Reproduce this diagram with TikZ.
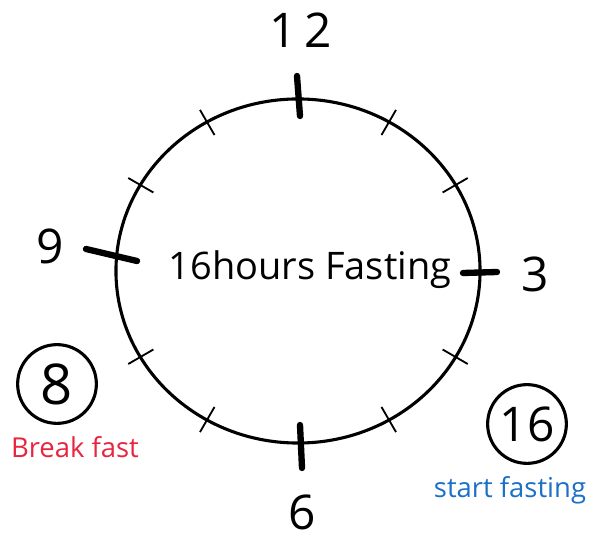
\documentclass[tikz,border=0pt]{standalone}
\usepackage{fontspec}
\setmainfont{Open Sans}
\usetikzlibrary{positioning}
\definecolor{breakred}{RGB}{232,36,62}
\definecolor{startblue}{RGB}{28,112,200}

\begin{document}
\begin{tikzpicture}[x=0.025cm,y=-0.025cm,
	hour/.style={font=\fontsize{34}{40}\selectfont},
	bigtick/.style={line width=4.5pt,line cap=round},
	smalltick/.style={line width=1.3pt},
	badge/.style={draw,circle,line width=2.2pt,minimum size=56pt,inner sep=0pt}]
	\useasboundingbox (0,0) rectangle (600,550);
	% dial
	\draw[line width=2.2pt] (298,271) ellipse [x radius=4.55cm, y radius=4.3cm];
	\foreach \a in {30,60,120,150,210,240,300,330}
		\draw[smalltick,shift={(298,271)}] (\a:167 and 157) -- (\a:196 and 186);
	\coordinate (12a) at (297,76);
	\coordinate (12b) at (300,116);
	\coordinate (3a) at (463,273);
	\coordinate (3b) at (497,272);
	\coordinate (6a) at (300,425);
	\coordinate (6b) at (302,468);
	\coordinate (9a) at (86,249);
	\coordinate (9b) at (137,261);
	\draw[bigtick] (12a) -- (12b);
	\draw[bigtick] (3a) -- (3b);
	\draw[bigtick] (6a) -- (6b);
	\draw[bigtick] (9a) -- (9b);
	% numbers
	\node[hour] (12) at (301,30) {1\,2};
	\node[hour] (3) at (535,274) {3};
	\node[hour] (6) at (302,512) {6};
	\node[hour] (9) at (50,246) {9};
	\node[font=\fontsize{27}{30}\selectfont] (title) at (310,270) {16hours Fasting};
	% meals
	\node[badge,font=\fontsize{40}{44}\selectfont] (8) at (57,384) {8};
	\node[text=breakred,font=\fontsize{19.5}{22}\selectfont] (break) at (75,447) {Break fast};
	\node[badge,font=\fontsize{34}{40}\selectfont] (16) at (527,424) {16};
	\node[text=startblue,font=\fontsize{19.5}{22}\selectfont] (start) at (510,490) {start fasting};
\end{tikzpicture}
\end{document}
